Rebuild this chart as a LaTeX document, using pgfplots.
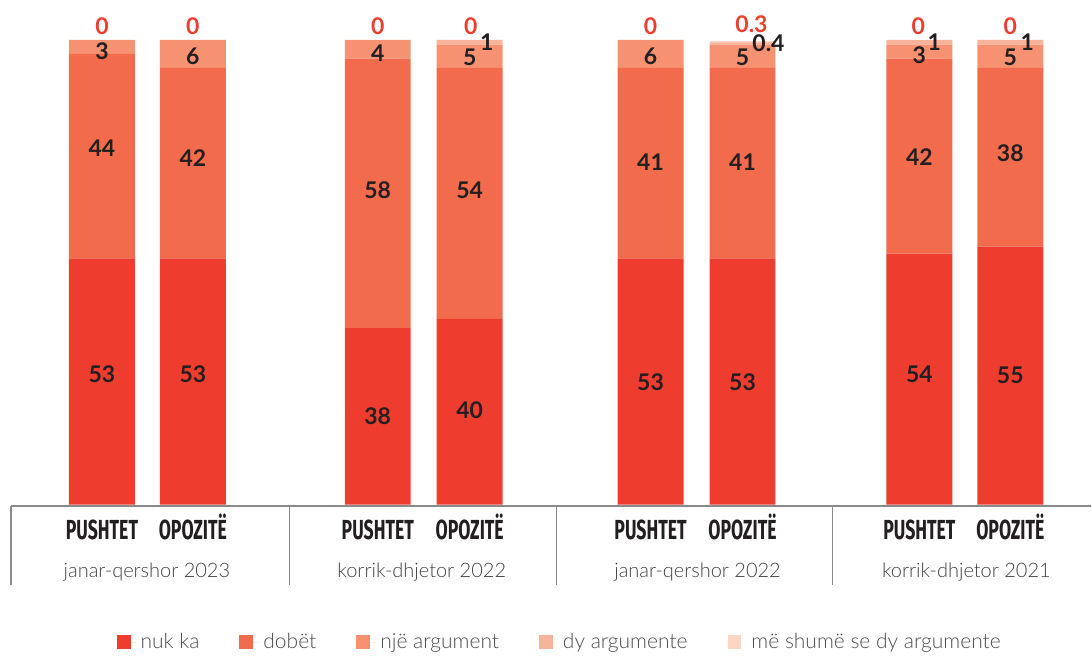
\documentclass[border=0pt]{standalone}
\usepackage{pgfplots}
\pgfplotsset{compat=1.18}
\usepackage{fontspec}
\setmainfont{Lato}
\newfontfamily\lightfont{Lato Light}
\newfontfamily\condfont[FakeStretch=0.64]{Fira Sans}

\definecolor{nukka}{HTML}{EE3D2F}
\definecolor{dobet}{HTML}{F26B4D}
\definecolor{nje}{HTML}{F69272}
\definecolor{dy}{HTML}{F9B39A}
\definecolor{meshume}{HTML}{FCD5C4}
\definecolor{txt}{HTML}{231F20}
\definecolor{rule}{HTML}{8A8A8A}

\pgfplotsset{frame/.style={scale only axis, width=546pt, height=232.5pt,
  xmin=0, xmax=1092, ymin=0, ymax=100, hide axis, clip=false}}

\begin{document}
\begin{tikzpicture}[
  num/.style={font=\bfseries\fontsize{11.5}{12}\selectfont, text=txt},
  rednum/.style={num, text=nukka},
  grp/.style={font=\condfont\bfseries\fontsize{13.8}{14}\selectfont, text=txt, anchor=base},
  per/.style={font=\lightfont\fontsize{10}{12}\selectfont, text=txt!85},
]
\begin{axis}[
  frame,
  ybar stacked, bar width=66,
  legend columns=-1,
  legend style={at={(axis cs:561,-29.6)}, anchor=center, draw=none, fill=none,
    font=\lightfont\fontsize{10.5}{12}\selectfont, text=txt!80,
    /tikz/every even column/.append style={column sep=18pt}},
  legend image code/.code={\fill[#1] (0pt,-3.5pt) rectangle (7pt,3.5pt);
    \path (0pt,0pt) -- (10pt,0pt);},
]
% x = bar centre in px, y = share in %
\addplot[fill=nukka, draw=none] coordinates {
  (102,53) (193,53) (378,38) (470,40) (651,53) (743,53) (920,54) (1011,55.5)};
\addlegendentry{nuk ka}
\addplot[fill=dobet, draw=none] coordinates {
  (102,44) (193,41) (378,58) (470,54) (651,41) (743,41) (920,42) (1011,38.5)};
\addlegendentry{dobët}
\addplot[fill=nje, draw=none] coordinates {
  (102,3) (193,6) (378,4) (470,5) (651,6) (743,5) (920,3) (1011,5)};
\addlegendentry{një argument}
\addplot[fill=dy, draw=none] coordinates {
  (102,0) (193,0) (378,0) (470,1) (651,0) (743,0.4) (920,1) (1011,1)};
\addlegendentry{dy argumente}
\addplot[fill=meshume, draw=none] coordinates {
  (102,0) (193,0) (378,0) (470,0) (651,0) (743,0.3) (920,0) (1011,0)};
\addlegendentry{më shumë se dy argumente}

% page frame
\path (axis cs:0,-31.83) rectangle (axis cs:1092,108.6);

% base line and group dividers
\draw[rule, line width=0.75pt] (axis cs:11,-0.25) -- (axis cs:1092,-0.25);
\draw[rule, line width=0.6pt] (axis cs:11,-0.25) -- (axis cs:11,-17.2);
\draw[rule, line width=0.6pt] (axis cs:290,-0.25) -- (axis cs:290,-17.2);
\draw[rule, line width=0.6pt] (axis cs:557,-0.25) -- (axis cs:557,-17.2);
\draw[rule, line width=0.6pt] (axis cs:833,-0.25) -- (axis cs:833,-17.2);

% category labels
\node[grp] at (axis cs:102,-7.53) {PUSHTET};
\node[grp] at (axis cs:193,-7.53) {OPOZITË};
\node[grp] at (axis cs:378,-7.53) {PUSHTET};
\node[grp] at (axis cs:470,-7.53) {OPOZITË};
\node[grp] at (axis cs:651,-7.53) {PUSHTET};
\node[grp] at (axis cs:743,-7.53) {OPOZITË};
\node[grp] at (axis cs:920,-7.53) {PUSHTET};
\node[grp] at (axis cs:1011,-7.53) {OPOZITË};
\node[per] at (axis cs:147,-14.41) {janar-qershor 2023};
\node[per] at (axis cs:422,-14.41) {korrik-dhjetor 2022};
\node[per] at (axis cs:698,-14.41) {janar-qershor 2022};
\node[per] at (axis cs:967,-14.41) {korrik-dhjetor 2021};
\end{axis}

% value labels, on top of the bars
\begin{axis}[frame]
\node[num] at (axis cs:102,28.17) {53};
\node[num] at (axis cs:102,76.77) {44};
\node[num] at (axis cs:102,97.63) {3};
\node[rednum] at (axis cs:102,103.0) {0};

\node[num] at (axis cs:193,28.17) {53};
\node[num] at (axis cs:193,74.62) {42};
\node[num] at (axis cs:193,96.56) {6};
\node[rednum] at (axis cs:193,103.0) {0};

\node[num] at (axis cs:378,19.14) {38};
\node[num] at (axis cs:378,67.74) {58};
\node[num] at (axis cs:378,97.2) {4};
\node[rednum] at (axis cs:378,103.0) {0};

\node[num] at (axis cs:470,20.43) {40};
\node[num] at (axis cs:470,67.74) {54};
\node[num] at (axis cs:470,96.34) {5};
\node[num] at (axis cs:487,99.57) {1};
\node[rednum] at (axis cs:471,103.0) {0};

\node[num] at (axis cs:651,26.45) {53};
\node[num] at (axis cs:651,73.76) {41};
\node[num] at (axis cs:651,96.56) {6};
\node[rednum] at (axis cs:651,103.0) {0};

\node[num] at (axis cs:743,26.45) {53};
\node[num] at (axis cs:743,73.76) {41};
\node[num] at (axis cs:743,96.34) {5};
\node[num] at (axis cs:769,99.3) {0.4};
\node[rednum] at (axis cs:752,103.3) {0.3};

\node[num] at (axis cs:920,27.96) {54};
\node[num] at (axis cs:920,74.84) {42};
\node[num] at (axis cs:920,96.77) {3};
\node[num] at (axis cs:935,99.57) {1};
\node[rednum] at (axis cs:919,103.0) {0};

\node[num] at (axis cs:1011,27.74) {55};
\node[num] at (axis cs:1011,75.70) {38};
\node[num] at (axis cs:1011,96.34) {5};
\node[num] at (axis cs:1028,99.57) {1};
\node[rednum] at (axis cs:1011,103.0) {0};
\end{axis}
\end{tikzpicture}
\end{document}
